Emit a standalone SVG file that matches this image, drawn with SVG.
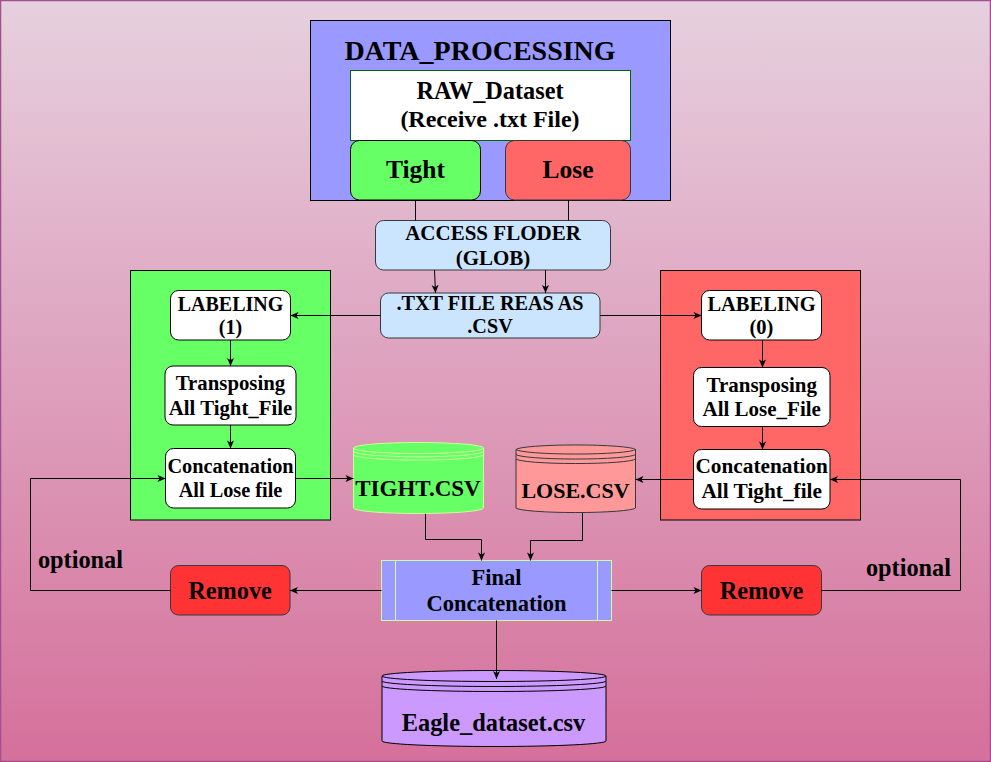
<svg xmlns="http://www.w3.org/2000/svg" width="991" height="762" viewBox="0 0 991 762">
<defs>
<linearGradient id="bg" x1="0" y1="0" x2="0" y2="1">
<stop offset="0" stop-color="#e6d0de"/>
<stop offset="1" stop-color="#d5709b"/>
</linearGradient>
<marker id="arr" markerUnits="userSpaceOnUse" markerWidth="10" markerHeight="8" refX="8" refY="3.5" orient="auto" overflow="visible">
<path d="M0,0 L8,3.5 L0,7 L2,3.5 Z" fill="#000"/>
</marker>
<style>
text{font-family:"Liberation Serif","Times New Roman",serif;font-weight:bold;fill:#000;text-anchor:middle}
.c{fill:none;stroke:#000;stroke-width:1}
.ca{fill:none;stroke:#000;stroke-width:1;marker-end:url(#arr)}
.box{fill:#fff;stroke:#000;stroke-width:1}
.f20{font-size:20px}
.f21{font-size:21px}
.f24{font-size:24.3px}
</style>
</defs>
<rect x="0.5" y="0.5" width="990" height="761" fill="url(#bg)" stroke="#a0508f" stroke-width="1.5"/>

<g id="data_processing">
<rect x="310.5" y="20.5" width="360" height="180" fill="#9999ff" stroke="#000"/>
<text x="480" y="60" style="font-size:28px">DATA_PROCESSING</text>
</g>
<g id="raw_dataset">
<rect x="350.5" y="70.5" width="280" height="70" fill="#fff" stroke="#006600"/>
<text x="490" y="99" style="font-size:24.3px">RAW_Dataset</text>
<text x="490" y="127" style="font-size:24px">(Receive .txt File)</text>
</g>
<g id="tight">
<rect x="350.5" y="140.5" width="130" height="59.5" rx="9" fill="#66ff66" stroke="#000"/>
<text x="415.5" y="178" style="font-size:25.5px">Tight</text>
</g>
<g id="lose">
<rect x="505.5" y="140.5" width="125" height="59.5" rx="9" fill="#ff6666" stroke="#36393d"/>
<text x="568" y="178" style="font-size:25.5px">Lose</text>
</g>
<g id="access_folder">
<rect x="375.5" y="220.5" width="235" height="49.5" rx="8" fill="#cce5ff" stroke="#36393d"/>
<text x="493" y="240" class="f21">ACCESS FLODER</text>
<text x="493" y="265" class="f21">(GLOB)</text>
</g>
<g id="txt_read">
<rect x="380.5" y="293" width="219.5" height="45" rx="8" fill="#cce5ff" stroke="#36393d"/>
<text x="490" y="310" style="font-size:20.2px">.TXT FILE REAS AS</text>
<text x="490" y="333" style="font-size:20.2px">.CSV</text>
</g>

<g id="tight_panel">
<rect x="130.5" y="270.5" width="200" height="249.5" fill="#66ff66" stroke="#000"/>
</g>
<g id="labeling1">
<rect x="170.5" y="290.5" width="120" height="49.5" rx="8" class="box"/>
<text x="230.5" y="310.5" class="f20">LABELING</text>
<text x="230.5" y="334" class="f20">(1)</text>
</g>
<g id="transpose_tight">
<rect x="165" y="366" width="131" height="59" rx="8" class="box"/>
<text x="230.5" y="389.5" style="font-size:20.8px">Transposing</text>
<text x="230.5" y="414.5" style="font-size:20.8px">All Tight_File</text>
</g>
<g id="concat_left">
<rect x="165.5" y="448.5" width="130" height="59.5" rx="8" class="box"/>
<text x="230.5" y="472.5" style="font-size:20.3px">Concatenation</text>
<text x="230.5" y="496.5" style="font-size:20.3px">All Lose file</text>
</g>

<g id="lose_panel">
<rect x="660.5" y="270.5" width="200" height="249.5" fill="#ff6666" stroke="#000"/>
</g>
<g id="labeling0">
<rect x="701.5" y="290.5" width="120" height="49.5" rx="8" class="box"/>
<text x="761.5" y="310.5" style="font-size:20.5px">LABELING</text>
<text x="761.5" y="334" style="font-size:20.5px">(0)</text>
</g>
<g id="transpose_lose">
<rect x="693.5" y="367.5" width="136.5" height="59" rx="8" class="box"/>
<text x="761.7" y="391.5" class="f21">Transposing</text>
<text x="761.7" y="416" class="f21">All Lose_File</text>
</g>
<g id="concat_right">
<rect x="693.5" y="449.5" width="136.5" height="59.5" rx="8" class="box"/>
<text x="761.7" y="473.3" style="font-size:21.3px">Concatenation</text>
<text x="761.7" y="498" style="font-size:21.3px">All Tight_file</text>
</g>

<g id="tight_csv">
<path d="M353.5,448 A65,5.5 0 0 1 483.5,448 L483.5,508 A65,5.5 0 0 1 353.5,508 Z" fill="#66ff66" stroke="#ccff99"/>
<path d="M353.5,448 A65,5.5 0 0 0 483.5,448 M353.5,451.3 A65,5.5 0 0 0 483.5,451.3 M353.5,454.6 A65,5.5 0 0 0 483.5,454.6" fill="none" stroke="#ccff99"/>
<text x="418" y="496" style="font-size:23px">TIGHT.CSV</text>
</g>
<g id="lose_csv">
<path d="M516,449.5 A60,5 0 0 1 635.5,449.5 L635.5,508 A60,5 0 0 1 516,508 Z" fill="#ff9999" stroke="#36393d"/>
<path d="M516,449.5 A60,5 0 0 0 635.5,449.5 M516,454.5 A60,5 0 0 0 635.5,454.5 M516,459 A60,5 0 0 0 635.5,459" fill="none" stroke="#36393d"/>
<text x="575.5" y="497.5" style="font-size:22px">LOSE.CSV</text>
</g>

<g id="final_concat">
<rect x="381.5" y="560.5" width="230" height="60" fill="#9999ff" stroke="#ccff99"/>
<path d="M395.5,560.5 V620.5 M597.5,560.5 V620.5" stroke="#ccff99" fill="none"/>
<text x="496.5" y="584.5" style="font-size:22.5px">Final</text>
<text x="496.5" y="610.5" style="font-size:22.5px">Concatenation</text>
</g>
<g id="remove_left">
<rect x="170.5" y="565.5" width="119.5" height="49.5" rx="8" fill="#ff3333" stroke="#36393d"/>
<text x="230" y="599" class="f24">Remove</text>
</g>
<g id="remove_right">
<rect x="701.5" y="565.5" width="120" height="49.5" rx="8" fill="#ff3333" stroke="#36393d"/>
<text x="761.5" y="599" class="f24">Remove</text>
</g>
<g id="eagle_dataset">
<path d="M382,676 A112,5.5 0 0 1 606,676 L606,741 A112,5.5 0 0 1 382,741 Z" fill="#cc99ff" stroke="#000"/>
<path d="M382,676 A112,5.5 0 0 0 606,676 M382,681 A112,5.5 0 0 0 606,681 M382,686 A112,5.5 0 0 0 606,686" fill="none" stroke="#000"/>
<text x="493.5" y="731" style="font-size:24.4px">Eagle_dataset.csv</text>
</g>

<g id="labels">
<text x="80.5" y="568.3" class="f24">optional</text>
<text x="908.5" y="576" class="f24">optional</text>
</g>

<g id="connectors">
<path class="c" d="M415.5,200 V220.5"/>
<path class="c" d="M568.5,200 V220.5" stroke="#36393d"/>
<path class="ca" d="M434.5,270 L435.5,293"/>
<path class="ca" d="M545.5,270 V293"/>
<path class="ca" d="M380.5,315.5 H290.5"/>
<path class="ca" d="M600,315.5 H701.5"/>
<path class="ca" d="M230.5,340 V366"/>
<path class="ca" d="M230.5,425 V448.5"/>
<path class="ca" d="M762.5,340 V367.5"/>
<path class="ca" d="M762.5,426.5 V449.5"/>
<path class="ca" d="M295.5,478.5 H353.5"/>
<path class="ca" d="M693.5,479.5 H635.5"/>
<path class="ca" d="M170.5,590.5 H30.5 V478.5 H165.5"/>
<path class="ca" d="M821.5,590.5 H960.5 V479.5 H830"/>
<path class="ca" d="M425.5,514 V539.5 H481.5 V560.5"/>
<path class="ca" d="M582.5,513 V540.5 H530.5 V560.5"/>
<path class="ca" d="M381.5,590.5 H290"/>
<path class="ca" d="M611.5,590.5 H701.5"/>
<path class="ca" d="M496.5,620.5 V679"/>
</g>
</svg>
